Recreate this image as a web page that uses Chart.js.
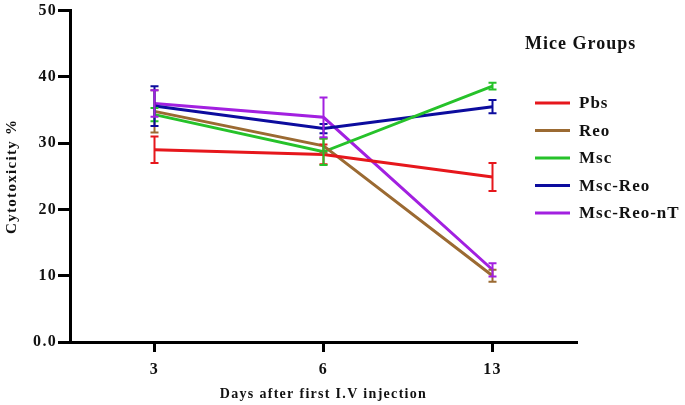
<!DOCTYPE html>
<html lang="en">
<head>
  <meta charset="UTF-8">
  <title>Cytotoxicity</title>
  <script src="https://cdn.jsdelivr.net/npm/chart.js"></script>
  <style>
    html, body { margin: 0; padding: 0; background: #fff; }
    #wrap { width: 685px; height: 405px; position: relative; }
  </style>
</head>
<body>
<div id="wrap"><canvas id="chart"></canvas></div>
<script>
const days = ['3', '6', '13'];
const groups = ['Pbs', 'Reo', 'Msc', 'Msc-Reo', 'Msc-Reo-nT'];
const colors = ['#e6171c', '#9b6a32', '#26c22a', '#0c0c9e', '#a220e0'];

const pbs = [29.0, 28.3, 24.9];
const reo = [34.8, 29.6, 10.0];
const msc = [34.3, 28.7, 38.6];
const mscReo = [35.6, 32.2, 35.5];
const mscReoNT = [36.0, 33.9, 10.9];

const pbsErr = [2.0, 1.5, 2.1];
const reoErr = [3.2, 1.1, 0.9];
const mscErr = [1.0, 2.0, 0.5];
const mscReoErr = [3.0, 0.7, 1.0];
const mscReoNTErr = [2.0, 3.0, 1.0];

const yTicks = [0, 10, 20, 30, 40, 50];

const values = [pbs, reo, msc, mscReo, mscReoNT];
const errors = [pbsErr, reoErr, mscErr, mscReoErr, mscReoNTErr];

const serif = "'Liberation Serif', 'DejaVu Serif', serif";

// the source text is drawn a little wide, so space the letters out
function spacing(chart) { chart.ctx.letterSpacing = '1.3px'; }
const letterSpace = {
  id: 'letterSpace',
  beforeUpdate: spacing,
  beforeLayout: spacing,
  beforeDraw: spacing
};

// error bars drawn from the data through the chart scales
const errorBars = {
  id: 'errorBars',
  afterDatasetsDraw(chart) {
    const ctx = chart.ctx;
    const x = chart.scales.x, y = chart.scales.y;
    ctx.save();
    chart.data.datasets.forEach((ds, i) => {
      ctx.strokeStyle = ds.borderColor;
      ctx.lineWidth = 2;
      ds.data.forEach((v, j) => {
        const px = x.getPixelForValue(j);
        const top = y.getPixelForValue(v + errors[i][j]);
        const bot = y.getPixelForValue(v - errors[i][j]);
        ctx.beginPath();
        ctx.moveTo(px, top); ctx.lineTo(px, bot);
        ctx.moveTo(px - 4, top); ctx.lineTo(px + 4, top);
        ctx.moveTo(px - 4, bot); ctx.lineTo(px + 4, bot);
        ctx.stroke();
      });
    });
    ctx.restore();
  }
};

// legend placed by hand over the right part of the plot
const sideLegend = {
  id: 'sideLegend',
  afterDraw(chart) {
    const ctx = chart.ctx;
    ctx.save();
    ctx.letterSpacing = '1px';
    ctx.fillStyle = '#111';
    ctx.textBaseline = 'middle';
    ctx.font = 'bold 18px ' + serif;
    ctx.fillText('Mice Groups', 525, 44);
    ctx.font = 'bold 17px ' + serif;
    chart.data.datasets.forEach((ds, i) => {
      const yy = 103 + i * 27.5;
      ctx.strokeStyle = ds.borderColor;
      ctx.lineWidth = 3;
      ctx.beginPath();
      ctx.moveTo(535, yy); ctx.lineTo(570, yy);
      ctx.stroke();
      ctx.fillText(ds.label, 579, yy + 1);
    });
    ctx.restore();
  }
};

new Chart(document.getElementById('chart'), {
  type: 'line',
  data: {
    labels: days,
    datasets: groups.map((g, i) => ({
      label: g,
      data: values[i],
      borderColor: colors[i],
      backgroundColor: colors[i],
      borderWidth: 3,
      pointRadius: 0,
      tension: 0
    }))
  },
  options: {
    responsive: true,
    maintainAspectRatio: false,
    animation: false,
    layout: { padding: { top: 5, right: 108, left: 0, bottom: 0 } },
    plugins: { legend: { display: false }, tooltip: { enabled: false } },
    scales: {
      x: {
        offset: true,
        afterFit(s) { s.height = 63; },
        border: { color: '#000', width: 3 },
        grid: { offset: false, drawOnChartArea: false, drawTicks: true, tickLength: 10, tickColor: '#000', tickWidth: 3 },
        ticks: { color: '#111', font: { family: serif, size: 16, weight: 'bold' }, padding: 8 },
        title: { display: true, text: 'Days after first I.V injection', color: '#111', font: { family: serif, size: 14, weight: 'bold' }, padding: { top: 1, bottom: 2 } }
      },
      y: {
        min: 0,
        max: 50,
        afterFit(s) { s.width = 70; },
        afterBuildTicks(s) { s.ticks = yTicks.map(v => ({ value: v })); },
        border: { color: '#000', width: 3 },
        grid: { drawOnChartArea: false, drawTicks: true, tickLength: 12, tickColor: '#000', tickWidth: 3 },
        ticks: {
          color: '#111',
          font: { family: serif, size: 16, weight: 'bold' },
          padding: 1,
          callback: v => v === 0 ? '0.0' : v
        },
        title: { display: true, text: 'Cytotoxicity %', color: '#111', font: { family: serif, size: 15, weight: 'bold' }, padding: { top: 3, bottom: 0 } }
      }
    }
  },
  plugins: [letterSpace, errorBars, sideLegend]
});
</script>
</body>
</html>
